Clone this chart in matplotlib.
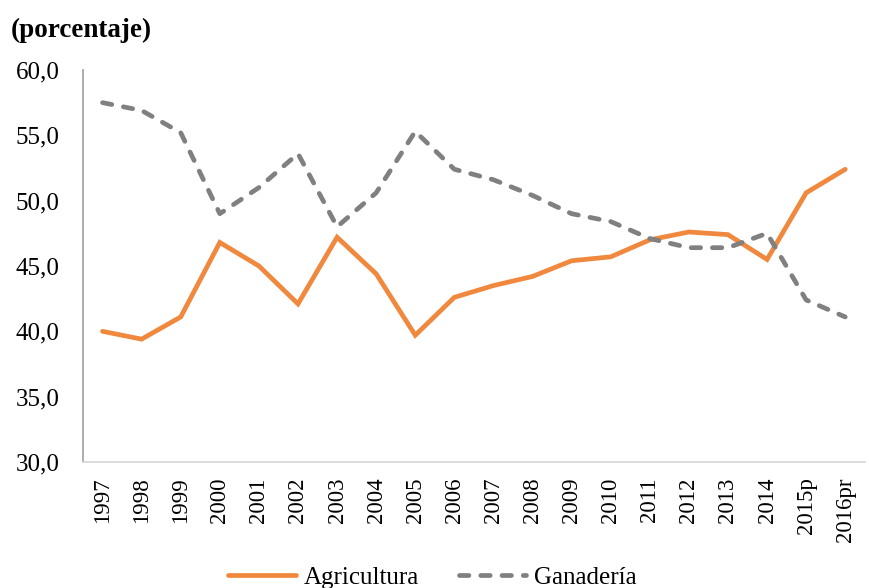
import matplotlib
matplotlib.use("Agg")
import matplotlib.pyplot as plt

years = ["1997", "1998", "1999", "2000", "2001", "2002", "2003", "2004", "2005", "2006",
         "2007", "2008", "2009", "2010", "2011", "2012", "2013", "2014", "2015p", "2016pr"]
agricultura = [40.0, 39.4, 41.1, 46.8, 45.0, 42.1, 47.2, 44.4, 39.7, 42.6,
               43.5, 44.2, 45.4, 45.7, 47.0, 47.6, 47.4, 45.5, 50.6, 52.4]
ganaderia = [57.5, 56.9, 55.2, 49.0, 51.0, 53.6, 48.0, 50.6, 55.3, 52.4,
             51.6, 50.4, 49.0, 48.4, 47.1, 46.4, 46.4, 47.5, 42.4, 41.1]
yticks = [30, 35, 40, 45, 50, 55, 60]
ytick_labels = ["30,0", "35,0", "40,0", "45,0", "50,0", "55,0", "60,0"]

plt.rcParams['font.family'] = ['Liberation Serif', 'DejaVu Serif']

fig = plt.figure(figsize=(8.7, 5.88), dpi=100)
ax = fig.add_axes([0.0954, 0.2143, 0.8986, 0.6667])

x = list(range(len(years)))
ax.plot(x, agricultura, color="#F0883E", lw=3.4, solid_capstyle="round",
        solid_joinstyle="miter", label="Agricultura")
ax.plot(x, ganaderia, color="#808080", lw=3.4, dashes=(2.0, 2.5),
        dash_capstyle="round", label="Ganadería")

ax.set_xlim(-0.5, len(years) - 0.5)
ax.set_ylim(30, 60)
ax.set_yticks(yticks)
ax.set_yticklabels(ytick_labels, fontsize=18)
ax.set_xticks(x)
ax.set_xticklabels(years, rotation=90, fontsize=16.5)
ax.tick_params(axis="both", length=0)
ax.tick_params(axis="y", pad=17)
ax.tick_params(axis="x", pad=11)

for s in ["top", "right"]:
    ax.spines[s].set_visible(False)
ax.spines["left"].set_color("#A6A6A6")
ax.spines["left"].set_linewidth(1.3)
ax.spines["bottom"].set_color("#D9D9D9")
ax.spines["bottom"].set_linewidth(1.3)

fig.text(0.012, 0.949, "(porcentaje)", fontsize=19.5, fontweight="bold", va="center", ha="left")

fig.legend(loc="center", bbox_to_anchor=(0.497, 0.018), ncol=2, frameon=False,
           fontsize=18, handlelength=2.7, columnspacing=1.6, handletextpad=0.3)

fig.savefig("out.png", dpi=100)
